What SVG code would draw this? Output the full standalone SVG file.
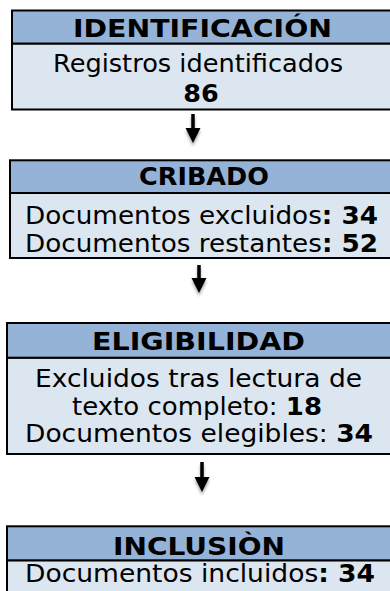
<svg xmlns="http://www.w3.org/2000/svg" width="390" height="591" viewBox="0 0 390 591">
<defs>
<style>
.hd{fill:#95B3D7;stroke:#000;stroke-width:2}
.bd{fill:#DCE6F1;stroke:#000;stroke-width:2}
text{font-family:"DejaVu Sans","Verdana",sans-serif;font-size:25.5px;fill:#000;text-anchor:middle}
.b{font-weight:bold}
.arr{stroke:#000;stroke-width:3.5;fill:none}
.ah{fill:#000}
</style>
<filter id="sh" x="-1" y="-1" width="3" height="3">
<feDropShadow dx="0" dy="3" stdDeviation="1.5" flood-color="#000" flood-opacity="0.35"/>
</filter>
</defs>
<g id="connectors" filter="url(#sh)">
<line class="arr" x1="193" y1="114" x2="193" y2="130"/>
<polygon class="ah" points="185.5,128 200.5,128 193,143"/>
<line class="arr" x1="199" y1="265" x2="199" y2="280"/>
<polygon class="ah" points="191.5,278 206.5,278 199,293"/>
<line class="arr" x1="202" y1="462" x2="202" y2="479"/>
<polygon class="ah" points="194.5,477 209.5,477 202,492"/>
</g>
<g id="identificacion">
<rect class="bd" x="12" y="43.5" width="400" height="66"/>
<rect class="hd" x="12" y="10.5" width="400" height="33"/>
<text class="b" x="202.5" y="37" textLength="259" lengthAdjust="spacingAndGlyphs">IDENTIFICACIÓN</text>
<text x="198" y="72" textLength="290" lengthAdjust="spacingAndGlyphs">Registros identificados</text>
<text class="b" x="201" y="102">86</text>
</g>
<g id="cribado">
<rect class="bd" x="10" y="193" width="400" height="65"/>
<rect class="hd" x="10" y="160.3" width="400" height="32.7"/>
<text class="b" x="204" y="185">CRIBADO</text>
<text x="201.5" y="224" textLength="353" lengthAdjust="spacingAndGlyphs">Documentos excluidos<tspan class="b">: 34</tspan></text>
<text x="201.5" y="252" textLength="353" lengthAdjust="spacingAndGlyphs">Documentos restantes<tspan class="b">: 52</tspan></text>
</g>
<g id="eligibilidad">
<rect class="bd" x="7" y="357.7" width="400" height="96.3"/>
<rect class="hd" x="7" y="323" width="400" height="34.7"/>
<text class="b" x="198.5" y="350" textLength="213" lengthAdjust="spacingAndGlyphs">ELIGIBILIDAD</text>
<text x="198.5" y="387" textLength="327" lengthAdjust="spacingAndGlyphs">Excluidos tras lectura de</text>
<text x="197" y="415" textLength="250" lengthAdjust="spacingAndGlyphs">texto completo: <tspan class="b">18</tspan></text>
<text x="199" y="442" textLength="348" lengthAdjust="spacingAndGlyphs">Documentos elegibles: <tspan class="b">34</tspan></text>
</g>
<g id="inclusion">
<rect class="bd" x="7" y="560.3" width="400" height="60"/>
<rect class="hd" x="7" y="526.3" width="400" height="34"/>
<text class="b" x="199" y="555" textLength="172" lengthAdjust="spacingAndGlyphs">INCLUSIÒN</text>
<text x="200" y="582" textLength="350" lengthAdjust="spacingAndGlyphs">Documentos incluidos<tspan class="b">: 34</tspan></text>
</g>
</svg>
